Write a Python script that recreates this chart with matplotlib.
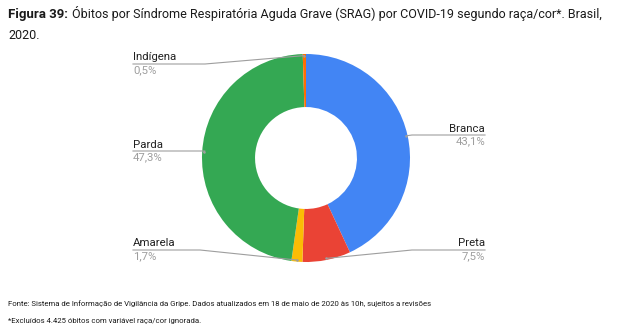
import matplotlib
matplotlib.use("Agg")
import matplotlib.pyplot as plt
from matplotlib.lines import Line2D
import numpy as np

categories = ["Branca", "Preta", "Amarela", "Parda", "Indígena"]
values = [43.1, 7.5, 1.7, 47.3, 0.5]
pct_labels = ["43,1%", "7,5%", "1,7%", "47,3%", "0,5%"]
colors = ["#4285f4", "#ea4335", "#fbbc04", "#34a853", "#ff6d01"]

W, H = 627, 332
fig = plt.figure(figsize=(W / 100, H / 100), dpi=100)
title_font = ["Roboto", "DejaVu Sans"]
label_font = ["Roboto", "DejaVu Sans"]


def px(x, y):
    # top-left pixel coords -> figure fraction
    return x / W, 1 - y / H


# donut
cx, cy, R = 306, 158, 104
ax = fig.add_axes([(cx - R) / W, (H - cy - R) / H, 2 * R / W, 2 * R / H])
wedges, _ = ax.pie(values, colors=colors, startangle=90, counterclock=False,
                   radius=1, wedgeprops=dict(width=0.51, linewidth=0))
ax.set_xlim(-1, 1)
ax.set_ylim(-1, 1)
ax.set_aspect("equal")
ax.axis("off")

# label layout: (text x, baseline line y, side, elbow x)
layout = {
    "Branca": (485, 135, "right", 412),
    "Preta": (485, 250, "right", 412),
    "Amarela": (133, 250, "left", 200),
    "Parda": (133, 151, "left", 205),
    "Indígena": (133, 64, "left", 205),
}

fig.canvas.draw()
total = sum(values)
start = 90.0
for cat, val, pct in zip(categories, values, pct_labels):
    mid = start - val / total * 360 / 2
    start -= val / total * 360
    ang = np.deg2rad(mid)
    ax_x, ax_y = 0.985 * np.cos(ang), 0.985 * np.sin(ang)
    dx, dy = ax.transData.transform((ax_x, ax_y))
    tx, ly, side, ex = layout[cat]
    xs = [tx / W, ex / W, dx / W]
    ys = [1 - ly / H, 1 - ly / H, dy / H]
    fig.add_artist(Line2D(xs, ys, transform=fig.transFigure, color="#9e9e9e", lw=0.8))
    fig.add_artist(Line2D([dx / W], [dy / H], transform=fig.transFigure, marker="o",
                          ms=1.8, color="#9e9e9e", mec="none"))
    fig.text(*px(tx, ly - 1.5), cat, ha=side, va="bottom", fontsize=8.2,
             family=label_font, color="#222222")
    fig.text(*px(tx, ly + 1), pct, ha=side, va="top", fontsize=8.2,
             family=label_font, color="#9e9e9e")

# title
renderer = fig.canvas.get_renderer()
t1 = fig.text(*px(8, 18), "Figura 39:", fontsize=9.5, fontweight="bold",
              family=title_font, color="#1a1a1a", va="baseline")
bb = t1.get_window_extent(renderer)
fig.text(bb.x1 / W + 4 / W, 1 - 18 / H,
         "Óbitos por Síndrome Respiratória Aguda Grave (SRAG) por COVID-19 segundo raça/cor*. Brasil,",
         fontsize=9.0, family=title_font, color="#1a1a1a", va="baseline")
fig.text(*px(8, 39), "2020.", fontsize=9.0, family=title_font, color="#1a1a1a", va="baseline")

# footer
fig.text(*px(8, 306), "Fonte: Sistema de Informação de Vigilância da Gripe. Dados atualizados em 18 de maio de 2020 às 10h, sujeitos a revisões",
         fontsize=5.6, family=title_font, color="#1a1a1a", va="baseline")
fig.text(*px(8, 323), "*Excluídos 4.425 óbitos com variável raça/cor ignorada.",
         fontsize=5.6, family=title_font, color="#1a1a1a", va="baseline")

fig.savefig("out.png", dpi=100, facecolor="white")
